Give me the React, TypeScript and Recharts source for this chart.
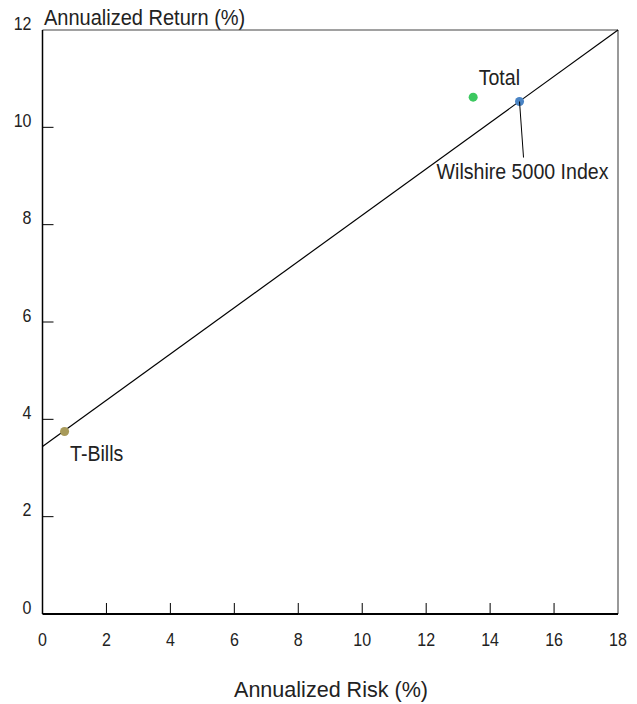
import React from 'react';
import { ScatterChart, Scatter, XAxis, YAxis, ReferenceLine, LabelList } from 'recharts';

const FONT = '"Liberation Sans", Arial, sans-serif';

const xTicks = [0, 2, 4, 6, 8, 10, 12, 14, 16, 18];
const yTicks = [0, 2, 4, 6, 8, 10, 12];

const capitalMarketLine = [
  { risk: 0, ret: 3.44 },
  { risk: 18, ret: 12 },
];
const tBills = [{ risk: 0.69, ret: 3.75, name: 'T-Bills' }];
const total = [{ risk: 13.47, ret: 10.62, name: 'Total' }];
const wilshire = [{ risk: 14.92, ret: 10.53, name: 'Wilshire 5000 Index' }];

// narrow-looking text: regular sans squeezed horizontally
const NText = ({ x, y, size, anchor = 'start', sx = 0.89, children }: any) => (
  <text
    transform={`translate(${x},${y}) scale(${sx},1)`}
    x={0}
    y={0}
    textAnchor={anchor}
    fontSize={size}
    fontFamily={FONT}
    fill="#222"
  >
    {children}
  </text>
);

const YTick = (props: any) => {
  const { x, y, payload } = props;
  const axisX = x + 11;
  return (
    <g>
      {payload.value !== 0 && payload.value !== 12 && (
        <line x1={axisX} x2={axisX + 11} y1={y} y2={y} stroke="#000" strokeWidth={1} />
      )}
      <NText x={x} y={y - 0.5} size={18} anchor="end">
        {payload.value}
      </NText>
    </g>
  );
};

const XTick = (props: any) => {
  const { x, y, payload } = props;
  const axisY = y - 16;
  return (
    <g>
      {payload.value !== 0 && payload.value !== 18 && (
        <line x1={x} x2={x} y1={axisY} y2={axisY - 11} stroke="#000" strokeWidth={1} />
      )}
      <NText x={x} y={y + 16} size={18} anchor="middle">
        {payload.value}
      </NText>
    </g>
  );
};

const App: React.FC = () => {
  return (
    <div style={{ position: 'absolute', left: 0, top: 0, width: 637, height: 704, background: '#fff' }}>
      <ScatterChart width={637} height={704} margin={{ top: 30, right: 19, left: 0, bottom: 0 }}>
        <XAxis
          type="number"
          dataKey="risk"
          domain={[0, 18]}
          ticks={xTicks}
          axisLine={{ stroke: '#000', strokeWidth: 2 }}
          tickLine={false}
          tickSize={0}
          tickMargin={16}
          tick={<XTick />}
          height={90}
        />
        <YAxis
          type="number"
          dataKey="ret"
          domain={[0, 12]}
          ticks={yTicks}
          axisLine={{ stroke: '#000', strokeWidth: 1.5 }}
          tickLine={false}
          tickSize={0}
          tickMargin={11}
          tick={<YTick />}
          width={42.5}
        />
        <ReferenceLine y={12} stroke="#444" strokeWidth={1.2} />
        <ReferenceLine x={18} stroke="#555" strokeWidth={1.2} />
        <Scatter
          data={capitalMarketLine}
          line={{ stroke: '#000', strokeWidth: 1.2 }}
          shape={() => null}
          isAnimationActive={false}
        />
        <Scatter data={tBills} fill="#a89a5a" shape="circle" isAnimationActive={false}>
          <LabelList
            dataKey="name"
            content={(p: any) => (
              <NText x={p.x + 10} y={p.y + 34} size={22}>
                {p.value}
              </NText>
            )}
          />
        </Scatter>
        <Scatter data={total} fill="#3cc860" shape="circle" isAnimationActive={false}>
          <LabelList
            dataKey="name"
            content={(p: any) => (
              <NText x={p.x + 10} y={p.y - 8} size={22}>
                {p.value}
              </NText>
            )}
          />
        </Scatter>
        <Scatter data={wilshire} fill="#4a84c4" shape="circle" isAnimationActive={false}>
          <LabelList
            dataKey="name"
            content={(p: any) => {
              const cx = p.x + p.width / 2;
              const cy = p.y + p.height / 2;
              return (
                <g>
                  <line x1={cx} y1={cy} x2={cx + 4} y2={cy + 56} stroke="#000" strokeWidth={1} />
                  <NText x={cx + 3} y={cy + 77} size={22} anchor="middle">
                    {p.value}
                  </NText>
                </g>
              );
            }}
          />
        </Scatter>
        <NText x={44} y={25} size={22} sx={0.91}>
          Annualized Return (%)
        </NText>
        <NText x={331} y={697} size={22} anchor="middle" sx={0.98}>
          Annualized Risk (%)
        </NText>
      </ScatterChart>
    </div>
  );
};

export default App;
